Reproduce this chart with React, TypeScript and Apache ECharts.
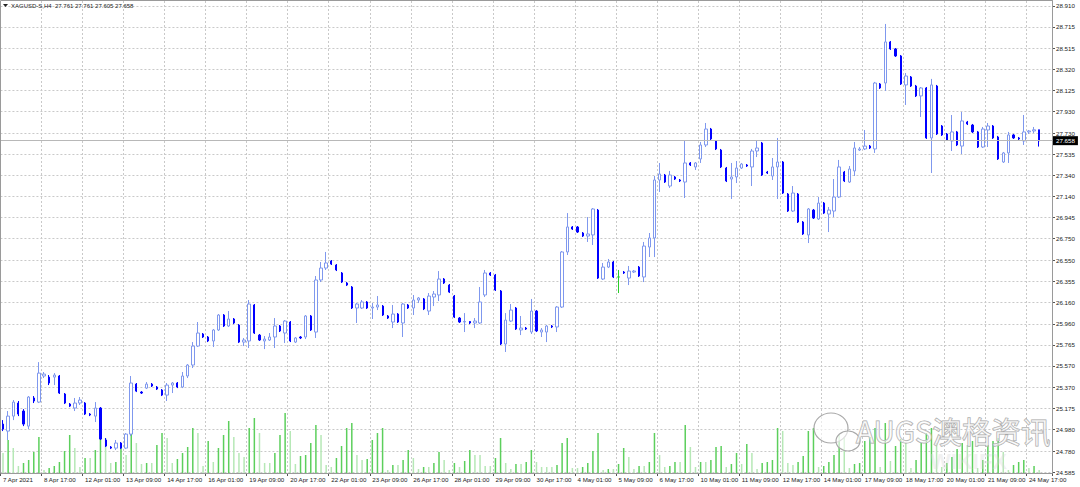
import React, { useEffect, useRef } from 'react';
import * as echarts from 'echarts';

const header = 'XAGUSD-S,H4  27.761 27.761 27.605 27.658';
const lastPrice = 27.658;
const dojiIndex = 120;

const yTickLabels = ['28.910','28.715','28.515','28.320','28.125','27.930','27.730','27.535','27.340','27.140','26.945','26.750','26.550','26.355','26.160','25.960','25.765','25.570','25.370','25.175','24.980','24.780','24.585'];

const xTickLabels = ['7 Apr 2021','8 Apr 17:00','12 Apr 01:00','13 Apr 09:00','14 Apr 17:00','16 Apr 01:00','19 Apr 09:00','20 Apr 17:00','22 Apr 01:00','23 Apr 09:00','26 Apr 17:00','28 Apr 01:00','29 Apr 09:00','30 Apr 17:00','4 May 01:00','5 May 09:00','6 May 17:00','10 May 01:00','11 May 09:00','12 May 17:00','14 May 01:00','17 May 09:00','18 May 17:00','20 May 01:00','21 May 09:00','24 May 17:00'];

// [open, close, low, high]
const ohlc: number[][] = [
[25.030,24.983,24.965,25.067],[24.965,25.104,24.882,25.151],[25.104,25.234,25.067,25.253],[25.225,25.123,25.104,25.244],[25.151,25.030,25.011,25.169],
[25.011,25.281,24.983,25.290],[25.272,25.244,25.225,25.290],[25.234,25.503,25.225,25.605],[25.476,25.494,25.457,25.513],[25.466,25.411,25.392,25.485],
[25.466,25.485,25.392,25.503],[25.476,25.318,25.309,25.485],[25.309,25.225,25.216,25.318],[25.216,25.197,25.188,25.225],[25.179,25.225,25.151,25.272],
[25.225,25.253,25.207,25.281],[25.225,25.123,25.114,25.234],[25.123,25.114,25.104,25.132],[25.104,25.179,25.049,25.234],[25.179,24.891,24.882,25.188],
[24.882,24.826,24.817,24.900],[24.817,24.807,24.798,24.826],[24.807,24.854,24.789,24.882],[24.854,24.807,24.798,24.863],[24.807,24.937,24.798,24.946],
[24.937,25.411,24.919,25.476],[25.401,25.336,25.327,25.411],[25.327,25.318,25.309,25.336],[25.364,25.401,25.355,25.420],[25.401,25.383,25.374,25.411],
[25.374,25.355,25.346,25.383],[25.346,25.299,25.290,25.355],[25.299,25.392,25.244,25.411],[25.392,25.411,25.318,25.420],[25.411,25.374,25.364,25.420],
[25.374,25.476,25.364,25.513],[25.476,25.578,25.457,25.587],[25.578,25.754,25.550,25.791],[25.754,25.875,25.745,25.977],[25.866,25.838,25.829,25.875],
[25.838,25.801,25.791,25.847],[25.801,25.903,25.745,25.912],[25.903,26.042,25.894,26.051],[26.042,25.940,25.931,26.051],[25.940,26.005,25.931,26.079],
[26.005,25.968,25.958,26.014],[25.949,25.791,25.782,25.958],[25.791,25.810,25.754,25.829],[25.801,26.144,25.736,26.181],[26.135,25.875,25.866,26.144],
[25.856,25.810,25.801,25.866],[25.801,25.819,25.726,25.847],[25.810,25.838,25.801,25.875],[25.838,25.940,25.736,26.014],[25.940,25.894,25.884,25.949],
[25.875,25.986,25.782,25.995],[25.977,25.801,25.791,25.986],[25.791,25.829,25.782,25.838],[25.838,25.829,25.819,25.847],[25.838,26.033,25.819,26.042],
[26.033,25.903,25.894,26.042],[25.884,26.367,25.829,26.404],[26.367,26.478,26.348,26.534],[26.478,26.525,26.460,26.627],[26.543,26.515,26.506,26.552],
[26.506,26.460,26.450,26.515],[26.432,26.348,26.339,26.441],[26.339,26.320,26.311,26.348],[26.302,26.107,26.098,26.311],[26.107,26.144,25.968,26.153],
[26.107,26.163,26.098,26.181],[26.163,26.107,26.098,26.172],[26.107,26.116,26.005,26.153],[26.116,26.135,26.088,26.218],[26.125,26.042,26.033,26.135],
[26.033,26.014,26.005,26.042],[25.977,26.051,25.921,26.135],[26.051,25.977,25.968,26.060],[25.968,26.144,25.838,26.153],[26.135,26.107,26.098,26.144],
[26.107,26.181,26.042,26.228],[26.181,26.200,26.153,26.209],[26.191,26.098,26.088,26.200],[26.079,26.218,26.042,26.246],[26.209,26.237,26.125,26.265],
[26.228,26.376,26.172,26.450],[26.376,26.339,26.330,26.385],[26.320,26.255,26.246,26.330],[26.218,26.023,26.014,26.228],[26.014,25.977,25.968,26.023],
[25.977,25.982,25.884,26.060],[25.982,25.968,25.958,25.986],[25.968,25.986,25.921,26.014],[25.968,26.163,25.958,26.302],[26.228,26.432,26.209,26.460],
[26.432,26.413,26.404,26.441],[26.413,26.274,26.265,26.423],[26.265,25.773,25.763,26.274],[25.773,25.995,25.699,26.060],[25.986,26.088,25.977,26.144],
[26.107,25.912,25.903,26.116],[25.903,25.921,25.856,26.033],[25.921,25.912,25.903,25.931],[25.884,26.079,25.866,26.191],[26.079,25.894,25.884,26.088],
[25.884,25.903,25.838,25.921],[25.884,25.940,25.791,25.949],[25.940,25.931,25.921,25.949],[25.931,26.116,25.884,26.125],[26.116,26.627,26.107,26.636],
[26.627,26.859,26.599,26.988],[26.859,26.840,26.831,26.868],[26.859,26.812,26.803,26.868],[26.803,26.775,26.766,26.812],[26.775,26.794,26.720,26.951],
[26.785,27.026,26.692,27.035],[27.016,26.385,26.376,27.026],[26.376,26.487,26.367,26.525],[26.487,26.534,26.478,26.562],[26.534,26.395,26.385,26.543],
[26.395,26.395,26.246,26.460],[26.441,26.432,26.423,26.450],[26.385,26.450,26.320,26.497],[26.441,26.450,26.432,26.460],[26.487,26.404,26.395,26.497],
[26.395,26.682,26.348,26.720],[26.673,26.757,26.580,26.803],[26.757,27.295,26.580,27.332],[27.295,27.351,27.184,27.453],[27.341,27.276,27.267,27.351],
[27.239,27.341,27.221,27.379],[27.323,27.304,27.295,27.332],[27.295,27.286,27.276,27.304],[27.276,27.453,27.128,27.666],[27.453,27.434,27.425,27.462],
[27.416,27.453,27.388,27.462],[27.490,27.620,27.453,27.648],[27.620,27.768,27.601,27.824],[27.768,27.676,27.666,27.778],[27.657,27.583,27.573,27.666],
[27.573,27.416,27.406,27.583],[27.406,27.286,27.276,27.416],[27.304,27.323,27.119,27.453],[27.323,27.406,27.267,27.471],[27.406,27.443,27.397,27.453],
[27.434,27.425,27.416,27.443],[27.416,27.564,27.239,27.583],[27.564,27.592,27.508,27.666],[27.638,27.341,27.332,27.648],[27.369,27.360,27.351,27.379],
[27.332,27.416,27.295,27.499],[27.416,27.462,27.119,27.685],[27.462,27.174,27.165,27.471],[27.165,27.007,26.998,27.174],[27.007,27.174,26.998,27.239],
[27.165,26.905,26.896,27.174],[26.905,26.794,26.785,26.914],[26.785,27.026,26.710,27.035],[27.016,26.942,26.933,27.026],[26.933,27.081,26.924,27.137],
[27.081,26.988,26.979,27.091],[26.979,27.016,26.812,27.044],[27.007,27.137,26.951,27.304],[27.137,27.416,27.128,27.481],[27.369,27.286,27.276,27.379],
[27.276,27.397,27.267,27.425],[27.379,27.592,27.332,27.648],[27.573,27.583,27.564,27.601],[27.583,27.610,27.573,27.759],[27.610,27.592,27.583,27.620],
[27.583,28.195,27.546,28.205],[28.186,28.149,28.140,28.195],[28.195,28.576,28.121,28.743],[28.576,28.511,28.502,28.585],[28.511,28.446,28.437,28.520],
[28.446,28.186,28.177,28.455],[28.177,28.260,27.991,28.288],[28.251,28.167,28.158,28.260],[28.167,28.075,28.065,28.177],[28.075,28.149,27.880,28.158],
[28.149,27.685,27.676,28.158],[27.685,28.177,27.360,28.233],[28.167,27.722,27.713,28.177],[27.796,27.713,27.704,27.805],[27.722,27.666,27.657,27.731],
[27.657,27.741,27.564,27.898],[27.741,27.620,27.610,27.750],[27.610,27.843,27.536,27.926],[27.833,27.815,27.805,27.843],[27.805,27.741,27.731,27.815],
[27.741,27.601,27.592,27.750],[27.601,27.768,27.592,27.787],[27.759,27.796,27.601,27.824],[27.796,27.685,27.676,27.805],[27.694,27.490,27.481,27.704],
[27.462,27.546,27.453,27.555],[27.546,27.713,27.453,27.741],[27.713,27.685,27.676,27.722],[27.685,27.676,27.666,27.694],[27.657,27.741,27.620,27.898],
[27.741,27.750,27.722,27.759],[27.750,27.761,27.731,27.787],[27.761,27.658,27.605,27.761]
];

const volumes = [
4000,6600,5000,1400,2000,2600,4200,7200,600,1000,
1400,2200,4400,7600,5000,1200,3000,3000,4600,8400,
7000,2000,2200,6000,3600,8800,6000,1800,2000,2000,
5600,8000,7000,2000,2800,4000,5200,9000,8000,1400,
6400,2200,5000,7600,10400,7200,4000,3200,9000,11000,
8000,2000,2000,4000,7600,12000,8400,1800,3400,3600,
6000,9600,7600,1600,1200,3000,5400,9000,10000,3600,
2600,2800,6600,8000,9000,600,1600,1600,2600,4600,
3000,800,1200,1200,2000,4200,2600,600,2000,1200,
2400,4600,3600,3600,1400,1400,3000,7000,2000,800,
1800,1800,2200,4600,2200,1200,1200,1200,1600,6000,
7000,1000,1000,1200,2000,4400,8000,600,800,800,
1800,5000,3200,800,1400,1400,2200,8000,3600,1200,
1400,2200,2200,9600,5200,1200,2200,2200,2600,5200,
5400,1200,1800,4000,1800,5800,4000,800,2000,2200,
2600,9000,8400,2000,1600,2200,3400,8400,9000,1200,
1400,2200,3600,7600,7000,1000,1800,2000,6400,7200,
9000,1200,10000,2400,5400,6800,6000,1000,2600,6000,
8000,9000,6000,1200,2000,3200,4800,6000,5600,6400,
1000,2600,5600,6400,7000,4200,600,1600,2200,2600,
1000,1400,600
];

const CATEGORY_COUNT = 205;
const LABEL_STEP = 8;
const FONT = 'Liberation Sans, Arial, sans-serif';
const AXIS_FONT_SIZE = 6.2;

export default function App() {
  const ref = useRef<HTMLDivElement>(null);
  useEffect(() => {
    const chart = echarts.init(ref.current!, null, { renderer: 'svg' });
    const cats = Array.from({ length: CATEGORY_COUNT }, (_, i) => String(i));
    const green = '#2bcc2b';
    const bullData = ohlc.map((d, i) => {
      if (i === dojiIndex) return { value: d, itemStyle: { color: green, color0: green, borderColor: green, borderColor0: green } };
      return d[1] > d[0] ? d : '-';
    });
    const bearData = ohlc.map((d, i) => (i !== dojiIndex && d[1] <= d[0] ? d : '-'));
    const volData = volumes.map((v, i) => ({
      value: v,
      itemStyle: { color: i > 0 && v > volumes[i - 1] ? '#5ccf5c' : '#b6e8b6' },
    }));
    const tickVals = yTickLabels.map(Number);
    const onStep = (idx: number) => idx % LABEL_STEP === 0 && idx / LABEL_STEP < xTickLabels.length;

    chart.setOption({
      animation: false,
      backgroundColor: '#ffffff',
      grid: { left: -1, right: 28, top: 1, bottom: 14, containLabel: false },
      xAxis: {
        type: 'category',
        data: cats,
        boundaryGap: true,
        axisLine: { show: true, lineStyle: { color: '#555', width: 1 } },
        axisTick: { show: true, interval: onStep, length: 3, lineStyle: { color: '#555' } },
        axisLabel: {
          interval: onStep,
          align: 'left',
          margin: 3,
          fontSize: AXIS_FONT_SIZE,
          fontFamily: FONT,
          color: '#222',
          showMinLabel: true,
          showMaxLabel: true,
          hideOverlap: false,
          formatter: (_v: string, idx: number) => (idx % LABEL_STEP === 0 && xTickLabels[idx / LABEL_STEP]) || '',
        },
        splitLine: { show: true, interval: onStep, lineStyle: { color: '#c9c9c9', type: [2, 2], width: 1 } },
      },
      yAxis: [
        {
          type: 'value',
          position: 'right',
          min: 24.576,
          max: 28.956,
          scale: true,
          axisLine: { show: true, lineStyle: { color: '#555', width: 1 } },
          axisTick: { show: true, length: 3, customValues: tickVals, lineStyle: { color: '#555' } },
          axisLabel: {
            customValues: tickVals,
            margin: 4,
            fontSize: AXIS_FONT_SIZE,
            fontFamily: FONT,
            color: '#222',
            formatter: (v: number) => yTickLabels.find((s) => Math.abs(Number(s) - v) < 1e-6) || '',
          },
          splitLine: { show: true, lineStyle: { color: '#c9c9c9', type: [2, 2], width: 1 } },
        },
        { type: 'value', min: 0, max: 94400, show: false, splitLine: { show: false } },
      ],
      graphic: [
        { type: 'rect', silent: true, z: 100, shape: { x: 0.5, y: 0.5, width: 1052, height: 473 }, style: { fill: 'none', stroke: '#9a9a9a', lineWidth: 1 } },
        { type: 'polygon', silent: true, z: 100, shape: { points: [[3, 4], [8, 4], [5.5, 7]] }, style: { fill: '#222' } },
        { type: 'text', silent: true, z: 100, x: 11, y: 2.5, style: { text: header, fontSize: 6, fontFamily: FONT, fill: '#222' } },
        { type: 'ellipse', silent: true, z: 90, shape: { cx: 831, cy: 428, rx: 17, ry: 15 }, style: { fill: 'rgba(255,255,255,0.6)', stroke: '#a9a9a9', lineWidth: 1.2 } },
        { type: 'ellipse', silent: true, z: 91, shape: { cx: 848, cy: 441, rx: 12, ry: 10 }, style: { fill: 'rgba(255,255,255,0.6)', stroke: '#a9a9a9', lineWidth: 1.2 } },
        { type: 'text', silent: true, z: 92, x: 856, y: 415, style: { text: 'AUGS澳格资讯', fontSize: 29.5, fontFamily: 'Noto Sans CJK SC, sans-serif', fill: 'rgba(255,255,255,0.55)', stroke: '#a6a6a6', lineWidth: 1 } },
        { type: 'text', silent: true, z: 89, x: 930, y: 450, style: { text: 'WIKIFX', fontSize: 22, fontWeight: 'bold', fontFamily: FONT, fill: 'rgba(215,215,215,0.35)' } },
      ],
      series: [
        {
          type: 'bar',
          name: 'volume',
          yAxisIndex: 1,
          data: volData,
          barWidth: 1.5,
          z: 1,
          silent: true,
        },
        {
          type: 'candlestick',
          name: 'bull',
          data: bullData,
          barWidth: 3,
          z: 3,
          itemStyle: { color: '#ffffff', color0: '#ffffff', borderColor: '#7f98ee', borderColor0: '#7f98ee', borderWidth: 1 },
        },
        {
          type: 'candlestick',
          name: 'bear',
          data: bearData,
          barWidth: 1.6,
          z: 3,
          itemStyle: { color: '#0000ff', color0: '#0000ff', borderColor: '#0000ff', borderColor0: '#0000ff', borderWidth: 1 },
          markLine: {
            silent: true,
            symbol: 'none',
            lineStyle: { color: '#b8b8b8', type: 'solid', width: 1 },
            label: {
              show: true,
              position: 'end',
              formatter: '27.658',
              color: '#ffffff',
              backgroundColor: '#000000',
              padding: [2, 3, 1, 3],
              fontSize: AXIS_FONT_SIZE,
              fontFamily: FONT,
              distance: 1,
            },
            data: [{ yAxis: lastPrice }],
          },
        },
      ],
    });
    return () => chart.dispose();
  }, []);
  return <div ref={ref} style={{ position: 'fixed', left: 0, top: 0, width: 1080, height: 487, background: '#fff' }} />;
}
